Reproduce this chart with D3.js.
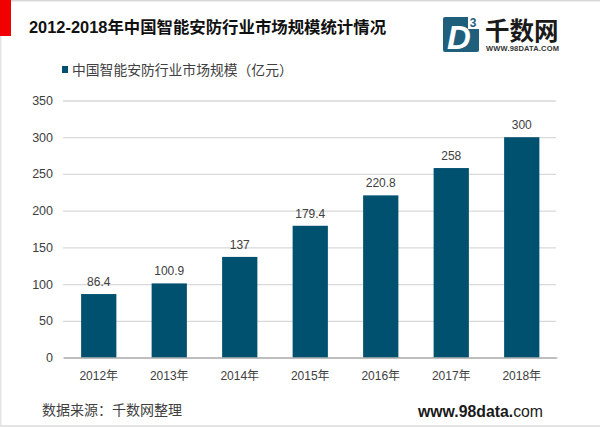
<!DOCTYPE html>
<html><head><meta charset="utf-8">
<script src="https://cdn.jsdelivr.net/npm/d3@7"></script>
<style>
html,body{margin:0;padding:0;background:#fff}
svg{display:block}
text{font-family:"Liberation Sans","Noto Sans CJK SC",sans-serif}
</style></head><body>
<svg id="c" width="600" height="427"></svg>
<script>
const categories=["2012年","2013年","2014年","2015年","2016年","2017年","2018年"];
const values=[86.4,100.9,137,179.4,220.8,258,300];
const valueLabels=["86.4","100.9","137","179.4","220.8","258","300"];
const yTicks=[0,50,100,150,200,250,300,350];
const seriesName="中国智能安防行业市场规模（亿元）";
const titleText="2012-2018年中国智能安防行业市场规模统计情况";
const sourceText="数据来源：千数网整理";
const barColor="#00506F", textColor="#404040";

const svg=d3.select("#c");
svg.append("rect").attr("x",0).attr("y",0).attr("width",600).attr("height",1.5).attr("fill","#d9d9d9");
svg.append("rect").attr("x",0).attr("y",425).attr("width",600).attr("height",2).attr("fill","#e4e4e4");
svg.append("rect").attr("x",0).attr("y",0).attr("width",1.5).attr("height",427).attr("fill","#e4e4e4");
svg.append("rect").attr("x",0).attr("y",0).attr("width",11).attr("height",36).attr("fill","#F00000");

svg.append("text").attr("x",29).attr("y",32.5).attr("font-size",16.4).attr("font-weight",700).attr("fill","#111").text(titleText);

svg.append("rect").attr("x",62).attr("y",66).attr("width",6).attr("height",7).attr("fill",barColor);
svg.append("text").attr("x",72).attr("y",75).attr("font-size",13.8).attr("fill",textColor).text(seriesName);

const x=d3.scaleBand().domain(categories).range([63.5,557]).paddingInner(0.5).paddingOuter(0.25);
const y=d3.scaleLinear().domain([0,350]).range([357.5,100.5]);

const gy=svg.append("g").attr("transform","translate(63,0)")
  .call(d3.axisLeft(y).tickValues(yTicks).tickSize(0).tickPadding(10).tickSizeInner(-493));
gy.select(".domain").remove();
gy.selectAll("line").attr("stroke","#d9d9d9").attr("stroke-width",1.3);
gy.selectAll("text").attr("font-size",12.5).attr("fill",textColor).attr("font-family",'"Liberation Sans",sans-serif');

svg.append("g").selectAll("rect").data(values).join("rect")
  .attr("x",(d,i)=>x(categories[i])).attr("width",x.bandwidth())
  .attr("y",d=>y(d)).attr("height",d=>y(0)-y(d)).attr("fill",barColor);

svg.append("g").selectAll("text").data(values).join("text")
  .attr("x",(d,i)=>x(categories[i])+x.bandwidth()/2).attr("y",d=>y(d)-8)
  .attr("text-anchor","middle").attr("font-size",12).attr("fill",textColor)
  .text((d,i)=>valueLabels[i]);

const gx=svg.append("g").attr("transform",`translate(0,${y(0)})`)
  .call(d3.axisBottom(x).tickSize(0).tickPadding(14));
gx.select(".domain").attr("stroke","#9a9a9a").attr("stroke-width",1);
gx.selectAll("text").attr("font-size",12).attr("fill",textColor);

svg.append("text").attr("x",42).attr("y",415).attr("font-size",14).attr("fill",textColor).text(sourceText);
const w=svg.append("text").attr("x",543).attr("y",417).attr("text-anchor","end").attr("font-size",15.8).attr("fill","#1a1a1a").attr("font-family",'"Open Sans",sans-serif');
w.append("tspan").attr("font-weight",700).text("www.98data.");
w.append("tspan").text("com");

const logo=svg.append("g").attr("transform","translate(443,17)");
logo.append("rect").attr("width",36).attr("height",35).attr("rx",2).attr("fill","#1F5F7C");
logo.append("text").attr("x",16).attr("y",32).attr("text-anchor","middle").attr("font-size",33).attr("font-weight",700).attr("font-style","italic").attr("fill","#fff").attr("font-family",'"Liberation Serif",serif').text("D");
logo.append("rect").attr("x",25).attr("y",-1).attr("width",11).attr("height",13).attr("fill","#fff");
logo.append("text").attr("x",30).attr("y",10).attr("text-anchor","middle").attr("font-size",12).attr("font-weight",700).attr("fill","#1F5F7C").text("3");
svg.append("text").attr("x",485).attr("y",40).attr("font-size",24.5).attr("font-weight",700).attr("fill","#1a1a1a").text("千数网");
svg.append("text").attr("x",486).attr("y",51).attr("font-size",7.5).attr("font-weight",700).attr("fill","#333").attr("textLength",73).text("WWW.98DATA.COM");
</script></body></html>
